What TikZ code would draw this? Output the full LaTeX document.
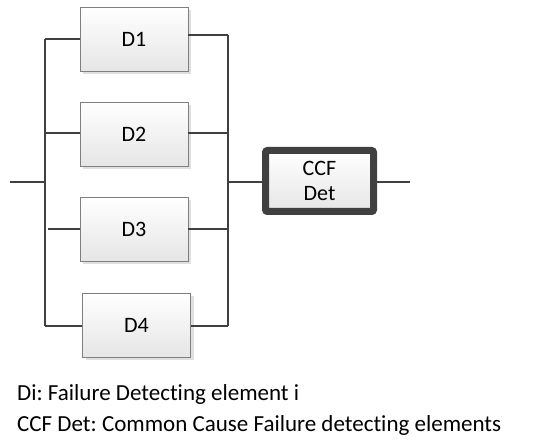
\documentclass[tikz,border=0pt]{standalone}
\usepackage{fontspec}
\setmainfont[Ligatures=NoCommon]{Carlito}
\usetikzlibrary{shadows}
\definecolor{wire}{HTML}{404040}
\definecolor{boxedge}{HTML}{7F7F7F}
\frenchspacing
\begin{document}
\begin{tikzpicture}[x=1pt,y=-1pt,
  wireline/.style={draw=wire,line width=2pt},
  dbox/.style={draw=boxedge,line width=0.8pt,top color=white,bottom color=black!10,
    minimum width=108pt,minimum height=64pt,inner sep=0pt,
    font=\fontsize{22}{24}\selectfont,
    drop shadow={shadow xshift=3pt,shadow yshift=-3pt,fill=black!12,opacity=1}},
  ccfbox/.style={draw=wire,line width=7pt,rounded corners=2pt,top color=white,bottom color=black!10,
    minimum width=108pt,minimum height=61pt,inner sep=0pt,align=center,
    font=\fontsize{22}{25}\selectfont,
    drop shadow={shadow xshift=2pt,shadow yshift=-2pt,fill=black!12,opacity=1}},
  legend/.style={anchor=base west,inner sep=0pt,font=\fontsize{23}{26}\selectfont}]
\useasboundingbox[fill=white] (0,0) rectangle (547,441);
\node[dbox] (D1) at (134,39) {D1};
\node[dbox] (D2) at (134,134) {D2};
\node[dbox] (D3) at (134,229) {D3};
\node[dbox] (D4) at (136.5,325) {D4};
\node[ccfbox] (CCF) at (319.5,181) {CCF\\Det};
% buses
\coordinate (in) at (10,182);
\coordinate (ltop) at (45,39);
\coordinate (lmid) at (45,182);
\coordinate (lbot) at (45,326);
\coordinate (l2) at (45,133);
\coordinate (l3) at (48,229);
\coordinate (rtop) at (228,35);
\coordinate (rmid) at (228,182);
\coordinate (rbot) at (228,326);
\coordinate (r2) at (228,133);
\coordinate (r3) at (228,229);
\coordinate (out) at (410,182);
\draw[wireline] (ltop) -- (lbot);
\draw[wireline] (rtop) -- (rbot);
\draw[wireline] (in) -- (lmid);
\draw[wireline] (ltop) -- (ltop -| D1.west);
\draw[wireline] (l2) -- (l2 -| D2.west);
\draw[wireline] (l3) -- (l3 -| D3.west);
\draw[wireline] (lbot) -- (lbot -| D4.west);
\draw[wireline] (rtop -| D1.east) -- (rtop);
\draw[wireline] (r2 -| D2.east) -- (r2);
\draw[wireline] (r3 -| D3.east) -- (r3);
\draw[wireline] (rbot -| D4.east) -- (rbot);
\draw[wireline] (rmid) -- (rmid -| CCF.west);
\draw[wireline] (out -| CCF.east) -- (out);
\node[legend] (L1) at (17,400) {Di: Failure Detecting element i};
\node[legend] (L2) at (17,431) {CCF Det: Common Cause Failure detecting elements};
\end{tikzpicture}
\end{document}
